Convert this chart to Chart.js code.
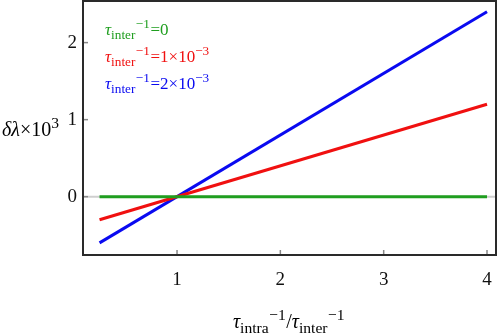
<!DOCTYPE html>
<html>
<head>
<meta charset="utf-8">
<script src="https://cdn.jsdelivr.net/npm/chart.js@4/dist/chart.umd.min.js"></script>
<style>
html,body{margin:0;padding:0;background:#fff;}
#wrap{width:498px;height:333px;position:relative;}
</style>
</head>
<body>
<div id="wrap"><canvas id="c" width="498" height="333"></canvas></div>
<script>
// ---- data ----
const xValues = [0.25, 4];
const seriesRate0 = [0, 0];
const seriesRate1 = [-0.3, 1.2];
const seriesRate2 = [-0.6, 2.4];
const seriesLabels = ['τinter−1=0', 'τinter−1=1×10−3', 'τinter−1=2×10−3'];
const xTickValues = [1, 2, 3, 4];
const yTickValues = [0, 1, 2];
const xTitle = 'τintra−1/τinter−1';
const yTitle = 'δλ×103';

// rich-text segments (typographic form of the labels above)
const legendRich = [
  [{t:'τ',i:1},{t:'inter',k:'sub'},{t:'−1',k:'sup'},{t:'=0'}],
  [{t:'τ',i:1},{t:'inter',k:'sub'},{t:'−1',k:'sup'},{t:'=1×10'},{t:'−3',k:'sup'}],
  [{t:'τ',i:1},{t:'inter',k:'sub'},{t:'−1',k:'sup'},{t:'=2×10'},{t:'−3',k:'sup'}]
];
const xTitleRich = [{t:'τ',i:1},{t:'intra',k:'sub'},{t:'−1',k:'sup'},{t:'/'},{t:'τ',i:1},{t:'inter',k:'sub'},{t:'−1',k:'sup'}];
const yTitleRich = [{t:'δλ',i:1},{t:'×10'},{t:'3',k:'sup'}];

const colors = ['#1f9e1f', '#f01010', '#0a0af0'];
const FAM = '"Liberation Serif", "DejaVu Serif", serif';

function segFont(s, size){
  const sz = s.k ? size*0.78 : size;
  return (s.i ? 'italic ' : '') + sz + 'px ' + FAM;
}
function richWidth(ctx, segs, size){
  let w = 0;
  for (const s of segs){ ctx.font = segFont(s,size); w += ctx.measureText(s.t).width + (s.k ? 0.5 : 0); }
  return w;
}
function drawRich(ctx, segs, x, y, size, color, align){
  ctx.save();
  ctx.fillStyle = color;
  ctx.textBaseline = 'alphabetic';
  ctx.textAlign = 'left';
  let cx = x;
  if (align === 'center') cx = x - richWidth(ctx, segs, size)/2;
  for (const s of segs){
    ctx.font = segFont(s,size);
    let dy = 0;
    if (s.k === 'sub') dy = size*0.25;
    if (s.k === 'sup') dy = -size*0.42;
    ctx.fillText(s.t, cx, y + dy);
    cx += ctx.measureText(s.t).width + (s.k ? 0.5 : 0);
  }
  ctx.restore();
}

const makeData = arr => xValues.map((x, i) => ({x: x, y: arr[i]}));

const decor = {
  id: 'decor',
  beforeDatasetsDraw(chart){
    const {ctx, chartArea: a, scales: {x, y}} = chart;
    ctx.save();
    ctx.strokeStyle = '#cfcfcf';
    ctx.lineWidth = 2;
    const y0 = y.getPixelForValue(0);
    ctx.beginPath(); ctx.moveTo(a.left, y0); ctx.lineTo(a.right, y0); ctx.stroke();
    ctx.strokeStyle = '#888';
    ctx.lineWidth = 1.5;
    for (const v of xTickValues){
      const px = x.getPixelForValue(v);
      ctx.beginPath(); ctx.moveTo(px, a.bottom); ctx.lineTo(px, a.bottom - 5); ctx.stroke();
    }
    for (const v of yTickValues){
      const py = y.getPixelForValue(v);
      ctx.beginPath(); ctx.moveTo(a.left, py); ctx.lineTo(a.left + 5, py); ctx.stroke();
    }
    ctx.restore();
  },
  afterDatasetsDraw(chart){
    const {ctx, chartArea: a} = chart;
    ctx.save();
    ctx.strokeStyle = '#2a2a2a';
    ctx.lineWidth = 2;
    ctx.strokeRect(a.left, a.top, a.right - a.left, a.bottom - a.top);
    ctx.restore();
    legendRich.forEach((segs, i) => {
      drawRich(ctx, segs, 105, 35 + i*27, 17, colors[i], 'left');
    });
    drawRich(ctx, xTitleRich, 289, 328, 20, '#000', 'center');
    drawRich(ctx, yTitleRich, 2, 136, 20, '#000', 'left');
  }
};

function fixPad(s){ s.paddingTop = 0; s.paddingBottom = 0; s.paddingLeft = 0; s.paddingRight = 0; }

new Chart(document.getElementById('c'), {
  type: 'line',
  data: {
    datasets: [seriesRate0, seriesRate1, seriesRate2].map((arr, i) => ({
      label: seriesLabels[i],
      data: makeData(arr),
      borderColor: colors[i],
      backgroundColor: colors[i],
      borderWidth: 3,
      pointRadius: 0,
      tension: 0,
      fill: false
    }))
  },
  options: {
    responsive: false,
    animation: false,
    devicePixelRatio: 1,
    layout: {padding: {top: 1, right: 2, left: 0, bottom: 0}},
    plugins: {legend: {display: false}, tooltip: {enabled: false}},
    scales: {
      x: {
        type: 'linear',
        min: 0.09, max: 4.087,
        grid: {display: false, drawTicks: false},
        border: {display: false},
        afterBuildTicks: s => { s.ticks = xTickValues.map(v => ({value: v})); },
        afterFit: s => { s.height = 78; fixPad(s); },
        ticks: {padding: 14, color: '#111', font: {family: FAM, size: 19}, maxRotation: 0, autoSkip: false}
      },
      y: {
        type: 'linear',
        min: -0.757, max: 2.54,
        grid: {display: false, drawTicks: false},
        border: {display: false},
        afterBuildTicks: s => { s.ticks = yTickValues.map(v => ({value: v})); },
        afterFit: s => { s.width = 83; fixPad(s); },
        ticks: {padding: 6, color: '#111', font: {family: FAM, size: 19}}
      }
    }
  },
  plugins: [decor]
});
</script>
</body>
</html>
